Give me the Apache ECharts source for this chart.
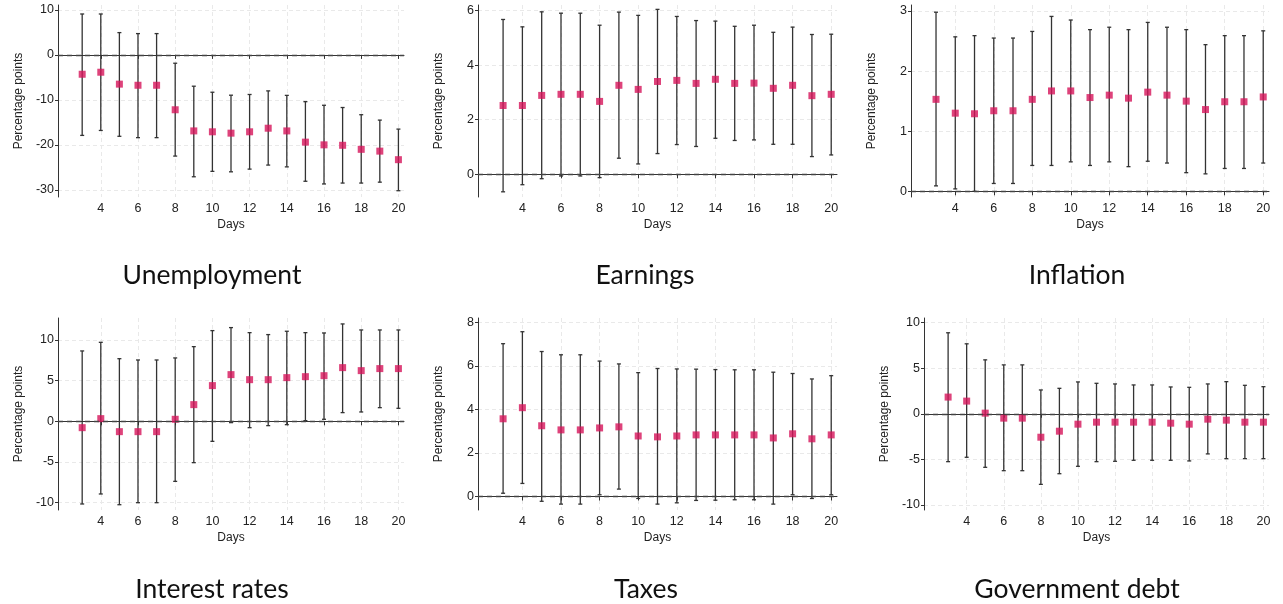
<!DOCTYPE html>
<html>
<head>
<meta charset="utf-8">
<title>Responses by day</title>
<script src="https://cdn.jsdelivr.net/npm/echarts@6/dist/echarts.min.js"></script>
<style>
  html, body { margin: 0; padding: 0; background: #fff; }
  #chart { width: 1283px; height: 604px; }
</style>
</head>
<body>
<div id="chart"></div>
<script>
// Horizon in days
const days = [3, 4, 5, 6, 7, 8, 9, 10, 11, 12, 13, 14, 15, 16, 17, 18, 19, 20];
const dayTicks = [4, 6, 8, 10, 12, 14, 16, 18, 20];

// Unemployment: point estimate and confidence bounds
const unempEst = [-4.3, -3.85, -6.5, -6.75, -6.75, -12.2, -16.9, -17.1, -17.4, -17.1, -16.3, -16.9, -19.4, -20.0, -20.1, -21.0, -21.4, -23.3];
const unempHi  = [9.1, 9.1, 4.96, 4.74, 4.74, -1.85, -6.96, -8.3, -8.96, -8.8, -8.0, -9.0, -10.4, -11.2, -11.7, -13.3, -14.5, -16.5];
const unempLo  = [-17.9, -16.8, -18.1, -18.4, -18.4, -22.5, -27.1, -25.9, -26.0, -25.4, -24.5, -24.9, -28.1, -28.7, -28.5, -28.5, -28.3, -30.2];
const unempTicks = [-30, -20, -10, 0, 10];

// Earnings
const earnEst = [2.52, 2.52, 2.89, 2.93, 2.93, 2.67, 3.26, 3.11, 3.40, 3.44, 3.33, 3.48, 3.33, 3.34, 3.15, 3.26, 2.88, 2.93];
const earnHi  = [5.67, 5.40, 5.95, 5.90, 5.90, 5.46, 5.94, 5.82, 6.04, 5.78, 5.63, 5.61, 5.42, 5.46, 5.20, 5.39, 5.12, 5.13];
const earnLo  = [-0.64, -0.38, -0.16, -0.06, -0.06, -0.12, 0.59, 0.38, 0.76, 1.09, 1.02, 1.32, 1.24, 1.26, 1.10, 1.10, 0.65, 0.71];
const earnTicks = [0, 2, 4, 6];

// Inflation
const inflEst = [1.53, 1.30, 1.29, 1.34, 1.34, 1.53, 1.67, 1.67, 1.56, 1.60, 1.55, 1.65, 1.60, 1.50, 1.36, 1.49, 1.49, 1.57];
const inflHi  = [2.98, 2.57, 2.59, 2.55, 2.55, 2.66, 2.91, 2.85, 2.69, 2.73, 2.69, 2.81, 2.73, 2.69, 2.44, 2.59, 2.59, 2.67];
const inflLo  = [0.09, 0.04, 0.0, 0.13, 0.13, 0.43, 0.43, 0.49, 0.43, 0.49, 0.41, 0.50, 0.47, 0.31, 0.29, 0.38, 0.38, 0.47];
const inflTicks = [0, 1, 2, 3];

// Interest rates
const rateEst = [-0.78, 0.33, -1.27, -1.27, -1.27, 0.25, 2.05, 4.39, 5.74, 5.12, 5.12, 5.37, 5.49, 5.61, 6.60, 6.23, 6.48, 6.48];
const rateHi  = [8.65, 9.71, 7.70, 7.54, 7.54, 7.79, 9.18, 11.15, 11.52, 10.9, 10.66, 11.07, 10.9, 10.86, 11.97, 11.23, 11.23, 11.23];
const rateLo  = [-10.16, -8.93, -10.25, -10.0, -10.0, -7.38, -5.08, -2.46, -0.16, -0.78, -0.53, -0.41, 0.08, 0.25, 1.07, 1.15, 1.68, 1.60];
const rateTicks = [-10, -5, 0, 5, 10];

// Taxes
const taxEst = [3.57, 4.08, 3.25, 3.06, 3.06, 3.15, 3.20, 2.78, 2.74, 2.78, 2.83, 2.83, 2.83, 2.83, 2.69, 2.88, 2.65, 2.83];
const taxHi  = [7.02, 7.57, 6.66, 6.51, 6.51, 6.22, 6.09, 5.69, 5.88, 5.86, 5.85, 5.83, 5.82, 5.82, 5.71, 5.65, 5.40, 5.55];
const taxLo  = [0.15, 0.60, -0.22, -0.35, -0.35, 0.08, 0.34, -0.09, -0.35, -0.29, -0.18, -0.17, -0.15, -0.15, -0.35, 0.08, -0.09, 0.08];
const taxTicks = [0, 2, 4, 6, 8];

// Government debt
const debtEst = [1.83, 1.39, 0.07, -0.48, -0.48, -2.57, -1.91, -1.14, -0.92, -0.92, -0.92, -0.92, -1.03, -1.14, -0.59, -0.70, -0.92, -0.92];
const debtHi  = [8.88, 7.67, 5.91, 5.36, 5.36, 2.61, 2.79, 3.49, 3.34, 3.27, 3.16, 3.16, 2.94, 2.90, 3.27, 3.52, 3.12, 2.97];
const debtLo  = [-5.25, -4.77, -5.87, -6.24, -6.24, -7.74, -6.57, -5.76, -5.25, -5.21, -5.10, -5.10, -5.10, -5.17, -4.40, -4.92, -4.92, -4.92];
const debtTicks = [-10, -5, 0, 5, 10];

const panelTitles = ['Unemployment', 'Earnings', 'Inflation', 'Interest rates', 'Taxes', 'Government debt'];

const panels = [
  { est: unempEst, lo: unempLo, hi: unempHi, ticks: unempTicks, yMin: -31.6, yMax: 11.1 },
  { est: earnEst,  lo: earnLo,  hi: earnHi,  ticks: earnTicks,  yMin: -0.83, yMax: 6.2 },
  { est: inflEst,  lo: inflLo,  hi: inflHi,  ticks: inflTicks,  yMin: -0.095, yMax: 3.1 },
  { est: rateEst,  lo: rateLo,  hi: rateHi,  ticks: rateTicks,  yMin: -10.9, yMax: 12.7 },
  { est: taxEst,   lo: taxLo,   hi: taxHi,   ticks: taxTicks,   yMin: -0.62, yMax: 8.2 },
  { est: debtEst,  lo: debtLo,  hi: debtHi,  ticks: debtTicks,  yMin: -10.55, yMax: 10.5 }
];

// Plot areas and title anchors, in pixels
const gridBoxes = [
  { left: 58,  top: 5,   width: 346, height: 192 },
  { left: 478, top: 5,   width: 359, height: 192 },
  { left: 911, top: 5,   width: 358, height: 192 },
  { left: 58,  top: 318, width: 346, height: 192 },
  { left: 478, top: 318, width: 359, height: 192 },
  { left: 924, top: 318, width: 345, height: 192 }
];
const titleAnchors = [[212, 276], [645, 276], [1077, 276], [212, 590], [646, 590], [1077, 590]];

const tickFont = 'Liberation Sans, Arial, sans-serif';
const axisColor = '#333';
const barColor = '#333';
const pointColor = '#d6145a';
const gridLineStyle = { color: '#e9e9e9', type: [4, 3], width: 1 };

function errorBar(params, api) {
  const x = api.value(0);
  const top = api.coord([x, api.value(2)]);
  const bot = api.coord([x, api.value(1)]);
  const cap = 2;
  const style = { stroke: barColor, lineWidth: 1.3 };
  return {
    type: 'group',
    children: [
      { type: 'line', shape: { x1: top[0], y1: top[1], x2: bot[0], y2: bot[1] }, style },
      { type: 'line', shape: { x1: top[0] - cap, y1: top[1], x2: top[0] + cap, y2: top[1] }, style },
      { type: 'line', shape: { x1: bot[0] - cap, y1: bot[1], x2: bot[0] + cap, y2: bot[1] }, style }
    ]
  };
}

const grid = [], xAxis = [], yAxis = [], series = [], title = [];

panels.forEach((p, i) => {
  grid.push(Object.assign({ containLabel: false }, gridBoxes[i]));

  xAxis.push({
    type: 'value', gridIndex: i, min: 1.7, max: 20.3,
    name: 'Days', nameLocation: 'middle', nameGap: 22,
    nameTextStyle: { fontFamily: tickFont, fontSize: 12, color: '#222' },
    axisLine: { show: true, lineStyle: { color: axisColor, width: 1 } },
    axisTick: { show: true, length: 4, customValues: dayTicks, lineStyle: { color: axisColor } },
    axisLabel: { customValues: dayTicks, margin: 5, fontFamily: tickFont, fontSize: 12.5, color: '#222' },
    splitLine: { show: true, lineStyle: gridLineStyle }
  });

  yAxis.push({
    type: 'value', gridIndex: i, min: p.yMin, max: p.yMax,
    name: 'Percentage points', nameLocation: 'middle', nameRotate: 90, nameGap: 33,
    nameTextStyle: { fontFamily: tickFont, fontSize: 12, color: '#222' },
    axisLine: { show: true, lineStyle: { color: axisColor, width: 1 } },
    axisTick: { show: true, length: 3, customValues: p.ticks, lineStyle: { color: axisColor } },
    axisLabel: { customValues: p.ticks, margin: 4, fontFamily: tickFont, fontSize: 12.5, color: '#222' },
    splitLine: { show: true, lineStyle: gridLineStyle }
  });

  series.push({
    type: 'custom', xAxisIndex: i, yAxisIndex: i,
    renderItem: errorBar,
    encode: { x: 0, y: [1, 2] },
    data: days.map((d, k) => [d, p.lo[k], p.hi[k]]),
    z: 2, silent: true
  });

  series.push({
    type: 'scatter', xAxisIndex: i, yAxisIndex: i,
    symbol: 'rect', symbolSize: 7,
    itemStyle: { color: pointColor },
    data: days.map((d, k) => [d, p.est[k]]),
    z: 3, silent: true,
    markLine: {
      silent: true, symbol: 'none', animation: false,
      label: { show: false },
      lineStyle: { color: '#444', type: [5, 4], width: 1.3 },
      data: [{ yAxis: 0 }]
    }
  });

  title.push({
    text: panelTitles[i],
    left: titleAnchors[i][0], top: titleAnchors[i][1] - 14,
    textAlign: 'center',
    textStyle: { fontFamily: 'Lato, sans-serif', fontSize: 26.5, fontWeight: 'normal', color: '#111' },
    padding: 0
  });
});

const chart = echarts.init(document.getElementById('chart'));
chart.setOption({
  animation: false,
  backgroundColor: '#fff',
  title, grid, xAxis, yAxis, series
});
</script>
</body>
</html>
